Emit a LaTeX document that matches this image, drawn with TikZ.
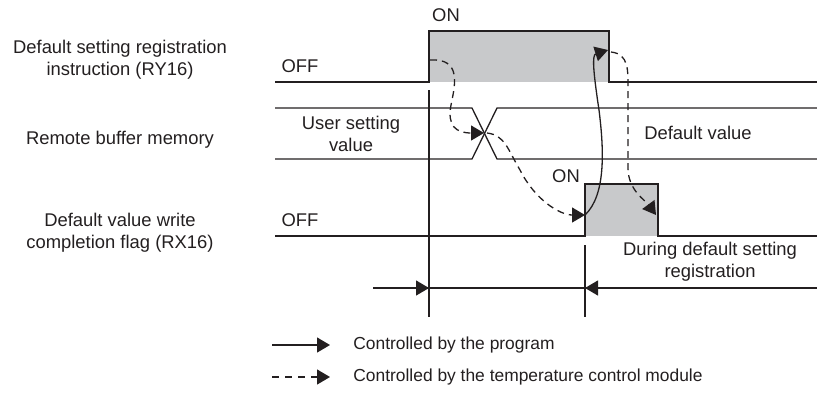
\documentclass[tikz,border=0pt]{standalone}
\usepackage{fontspec}
\setmainfont{Liberation Sans}
\usetikzlibrary{arrows.meta}
\definecolor{ink}{RGB}{35,31,32}
\definecolor{onfill}{RGB}{200,201,203}
\begin{document}
\begin{tikzpicture}[x=0.5pt,y=-0.5pt,
  every node/.style={font=\fontsize{9.2}{11}\selectfont, text=ink, inner sep=0pt},
  legendtext/.style={anchor=west, font=\fontsize{8.7}{11}\selectfont},
  sig/.style={draw=ink, line width=0.65pt},
  tip/.style={-{Triangle[length=6.5pt,width=7.5pt]}},
  flow/.style={draw=ink, line width=0.65pt, tip},
  tcm/.style={flow, dash pattern=on 3.5pt off 2.5pt},
  lbl/.style={align=center}]
\useasboundingbox (0,0) rectangle (817,392);
% shaded ON periods
\fill[onfill] (429,31) rectangle (609,82);
\fill[onfill] (585,184) rectangle (658,236);
% waveforms
\draw[sig] (275,82) -- (429,82) -- (429,31) -- (609,31) -- (609,82) -- (817,82);
\draw[sig] (275,108) -- (472,108) -- (497,159) -- (817,159);
\draw[sig] (275,159) -- (472,159) -- (497,108) -- (817,108);
\draw[sig] (275,236) -- (585,236) -- (585,184) -- (658,184) -- (658,236) -- (817,236);
% timing markers
\coordinate (v1t) at (429,90);
\coordinate (v1b) at (429,317);
\coordinate (v2t) at (585,245);
\coordinate (v2b) at (585,317);
\draw[sig] (v1t) -- (v1b);
\draw[sig] (v2t) -- (v2b);
\coordinate (dl) at (373,288);
\coordinate (d1) at (429,288);
\coordinate (d2) at (585,288);
\coordinate (dr) at (817,288);
\draw[sig] (dl) -- (dr);
\draw[flow] (dl) -- (d1);
\draw[flow] (dr) -- (d2);
% texts
\node (on1) at (446,15) {ON};
\node (off1) at (300,66) {OFF};
\node (on2) at (566,176) {ON};
\node (off2) at (300,220) {OFF};
\node[lbl] (usv) at (351,134) {User setting\\value};
\node (dv) at (698,133) {Default value};
\node[lbl] (dur) at (710,262) {During default setting\\registration};
\node[lbl] (ry) at (120,60) {Default setting registration\\instruction (RY16)};
\node (rbm) at (120,140) {Remote buffer memory};
\node[lbl] (rx) at (120,233) {Default value write\\completion flag (RX16)};
% flow arrows
\coordinate (a0) at (430,60);
\coordinate (a1) at (484,133);
\coordinate (a2) at (487,133);
\coordinate (a3) at (585,215);
\coordinate (a4) at (608,50);
\coordinate (a5) at (611,52);
\coordinate (a6) at (656,215);
\draw[tcm] (a0) .. controls (462,58) and (455,85) .. (451,105) .. controls (447,126) and (456,133) .. (a1);
\draw[tcm] (a2) .. controls (505,135) and (508,150) .. (520,170) .. controls (535,200) and (560,215) .. (a3);
\draw[flow] (a3) .. controls (606,195) and (604,150) .. (599,110) .. controls (593,70) and (592,55) .. (a4);
\draw[tcm] (a5) .. controls (629,54) and (628,70) .. (628,90) -- (628,168) .. controls (628,190) and (645,200) .. (a6);
% legend
\coordinate (l1a) at (272,345);
\coordinate (l1b) at (330,345);
\coordinate (l2a) at (272,377);
\coordinate (l2b) at (330,377);
\draw[flow] (l1a) -- (l1b);
\draw[tcm, dash pattern=on 3.5pt off 3pt] (l2a) -- (l2b);
\node[legendtext] (lg1) at (353,345) {Controlled by the program};
\node[legendtext] (lg2) at (353,377) {Controlled by the temperature control module};
\end{tikzpicture}
\end{document}
